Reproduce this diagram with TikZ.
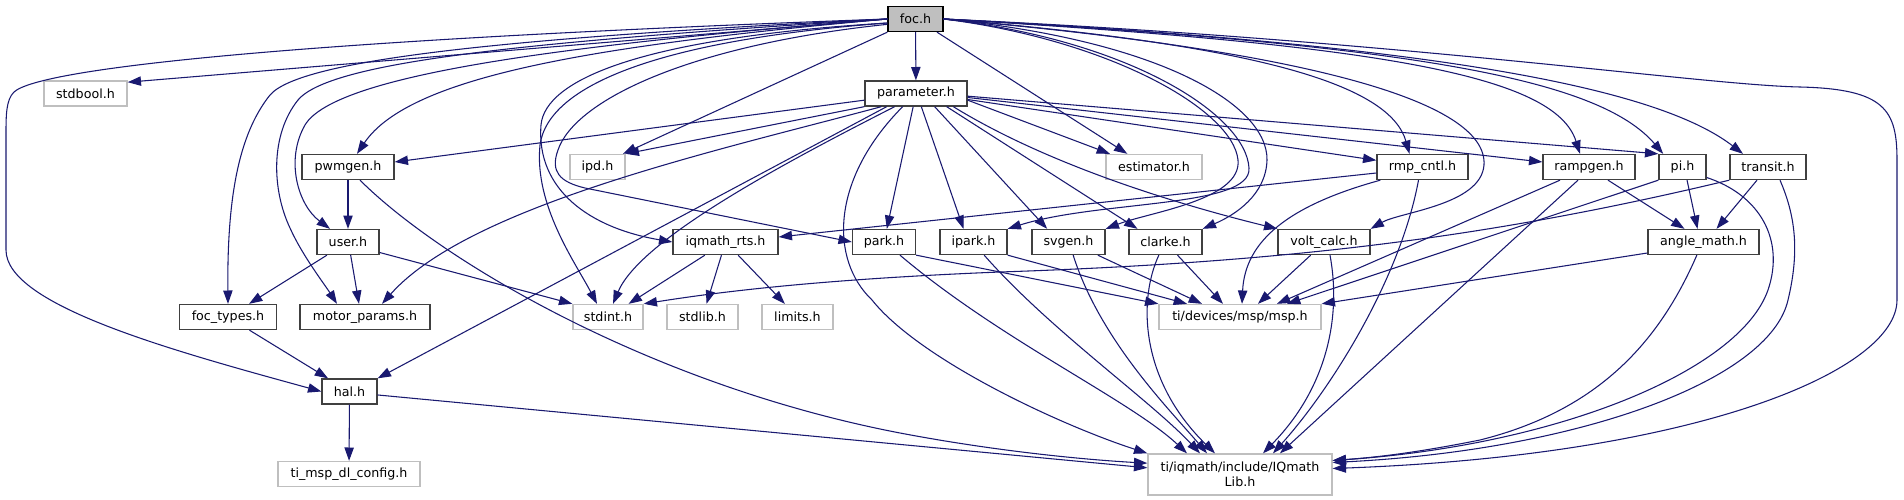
\documentclass[tikz,border=0pt]{standalone}
\usepackage{fontspec}
\setmainfont{DejaVu Sans}
\usepackage{tikz}
\usetikzlibrary{arrows.meta, positioning, calc}
\definecolor{Azulnoche}{RGB}{25,25,112}
\definecolor{Gris75}{RGB}{191,191,191}
\definecolor{Gris25}{RGB}{64,64,64}

\begin{document}
\begin{tikzpicture}[
  x=0.75pt, y=-0.75pt,
  caja/.style={
    rectangle, inner sep=0pt, minimum height=18.75pt,
    align=center, text=black, line width=1pt,
    font=\fontsize{9.5}{11}\selectfont
  },
  ancho/.style={minimum width=#1*0.75pt},
  raiz/.style={caja, draw=black, fill=Gris75},
  interno/.style={caja, draw=Gris25, fill=white},
  externo/.style={caja, draw=Gris75, fill=white},
  flecha/.style={-{Triangle[length=10pt,width=7pt]}, draw=Azulnoche, line width=0.8pt}
]

\fill[white] (0,0) rectangle (1904,500);
\useasboundingbox (0,0) rectangle (1904,500);

%% ─────────────────────────────────────────────────────────
%% Nodos: una fila por nivel (y = 19, 93.5, 167, 242, 317, 391.5, 474)
%% ─────────────────────────────────────────────────────────

%% NIVEL 0-1
\node[raiz, ancho=55]     (FOC)   at (915.5, 19)   {foc.h};
\node[externo, ancho=83]  (SBOOL) at (85.5, 93.5)  {stdbool.h};
\node[interno, ancho=102] (PAR)   at (916, 93.5)   {parameter.h};

%% NIVEL 2
\node[interno, ancho=92]  (PWM)  at (348, 167)    {pwmgen.h};
\node[externo, ancho=55]  (IPD)  at (597.5, 167)  {ipd.h};
\node[externo, ancho=96]  (EST)  at (1154, 167)   {estimator.h};
\node[interno, ancho=91]  (RMP)  at (1422.5, 167) {rmp\_cntl.h};
\node[interno, ancho=92]  (RAMP) at (1589, 167)   {rampgen.h};
\node[interno, ancho=47]  (PIH)  at (1682.5, 167) {pi.h};
\node[interno, ancho=76]  (TRS)  at (1768, 167)   {transit.h};

%% NIVEL 3
\node[interno, ancho=62]  (USR)  at (348, 242)    {user.h};
\node[interno, ancho=105] (RTS)  at (725.5, 242)  {iqmath\_rts.h};
\node[interno, ancho=63]  (PRK)  at (884, 242)    {park.h};
\node[interno, ancho=67]  (IPRK) at (973.5, 242)  {ipark.h};
\node[interno, ancho=73]  (SVG)  at (1068.5, 242) {svgen.h};
\node[interno, ancho=73]  (CLK)  at (1165.5, 242) {clarke.h};
\node[interno, ancho=92]  (VLT)  at (1324, 242)   {volt\_calc.h};
\node[interno, ancho=111] (ANG)  at (1703.5, 242) {angle\_math.h};

%% NIVEL 4
\node[interno, ancho=97]  (FTY)  at (228, 317)    {foc\_types.h};
\node[interno, ancho=130] (MOT)  at (365, 317)    {motor\_params.h};
\node[externo, ancho=70]  (SINT) at (608, 317)    {stdint.h};
\node[externo, ancho=71]  (SLIB) at (702.5, 317)  {stdlib.h};
\node[externo, ancho=71]  (LIM)  at (797.5, 317)  {limits.h};
\node[externo, ancho=162] (MSP)  at (1240, 317)   {ti/devices/msp/msp.h};

%% NIVEL 5-6
\node[interno, ancho=55]  (HAL)  at (349.5, 391.5) {hal.h};
\node[externo, ancho=142] (CFG)  at (349, 474)     {ti\_msp\_dl\_config.h};
\node[externo, ancho=184, minimum height=30.75pt]
                          (IQL)  at (1240, 474.5)  {ti/iqmath/include/IQmath\\Lib.h};

%% ─────────────────────────────────────────────────────────
%% foc.h hacia la izquierda
%% ─────────────────────────────────────────────────────────
\draw[flecha] (FOC.west) .. controls (300,40) and (40,68) .. (14,92)
  .. controls (6,100) and (6,115) .. (6,135) -- (6,250)
  .. controls (6,305) and (170,350) .. (HAL.west);
\draw[flecha] (FOC.west) -- (SBOOL.15);
\draw[flecha] (FOC.west) .. controls (500,38) and (300,60) .. (270,95)
  .. controls (238,135) and (227,200) .. (FTY.north);
\draw[flecha] (FOC.west) .. controls (520,42) and (330,62) .. (298,100)
  .. controls (270,135) and (272,190) .. (290,228)
  .. controls (302,255) and (325,285) .. ([xshift=-21pt]MOT.north);
\draw[flecha] (FOC.west) .. controls (560,45) and (335,75) .. (305,125)
  .. controls (285,160) and (298,205) .. ([xshift=-13.5pt]USR.north);
\draw[flecha] (FOC.west) .. controls (600,45) and (410,75) .. ([xshift=6.75pt]PWM.north);

% curvas que rodean ipd.h
\draw[flecha] ([yshift=-3pt]FOC.west) .. controls (660,40) and (548,85) .. (540,145)
  .. controls (534,205) and (575,262) .. ([xshift=-8.25pt]SINT.north);
\draw[flecha] ([yshift=-3pt]FOC.west) .. controls (640,38) and (545,80) .. (541,125)
  .. controls (536,190) and (590,228) .. (RTS.west);
\draw[flecha] ([yshift=-4pt]FOC.west) .. controls (690,45) and (575,100) .. (558,150)
  .. controls (550,172) and (560,182) .. (585,188) -- (PRK.west);

\draw[flecha] (FOC.south west) -- ([xshift=-2pt]IPD.north east);
\draw[flecha] (FOC) -- (PAR);
\draw[flecha] ([xshift=-5pt]FOC.south east) -- ([xshift=-20pt]EST.north);

%% ─────────────────────────────────────────────────────────
%% foc.h hacia la derecha
%% ─────────────────────────────────────────────────────────
\draw[flecha] (FOC.east) .. controls (1110,40) and (1233,110) .. (1238,160)
  .. controls (1242,200) and (1150,212) .. (SVG.north east);
\draw[flecha] (FOC.east) .. controls (1130,40) and (1246,115) .. (1249,168)
  .. controls (1252,208) and (1100,200) .. (IPRK.north east);
\draw[flecha] (FOC.east) .. controls (1160,40) and (1268,105) .. (1267,160)
  .. controls (1266,195) and (1235,215) .. (CLK.north east);
\draw[flecha] (FOC.east) .. controls (1260,45) and (1390,85) .. ([xshift=-9.75pt]RMP.north);
\draw[flecha] (FOC.east) .. controls (1300,50) and (1488,100) .. (1484,165)
  .. controls (1481,205) and (1400,212) .. (VLT.north east);
\draw[flecha] (FOC.east) .. controls (1380,45) and (1555,75) .. ([xshift=-6.75pt]RAMP.north);
\draw[flecha] (FOC.east) .. controls (1420,45) and (1600,80) .. ([xshift=-14.5pt]PIH.north);
\draw[flecha] (FOC.east) .. controls (1450,45) and (1660,90) .. ([xshift=-18.75pt]TRS.north);
\draw[flecha] (FOC.east) .. controls (1400,40) and (1700,85) .. (1800,87)
  .. controls (1885,89) and (1897,110) .. (1897,160) -- (1897,300)
  .. controls (1897,370) and (1700,455) .. ([yshift=4.5pt]IQL.east);

%% ─────────────────────────────────────────────────────────
%% parameter.h
%% ─────────────────────────────────────────────────────────
\draw[flecha] ([yshift=-5pt]PAR.west) -- ([yshift=3.75pt]PWM.east);
\draw[flecha] (PAR.south west) -- (IPD.north east);
\draw[flecha] ([xshift=-26pt]PAR.south) .. controls (720,150) and (470,205) .. ([xshift=12.75pt]MOT.north);
\draw[flecha] ([xshift=-22pt]PAR.south) -- (HAL.north east);
\draw[flecha] ([xshift=-16pt]PAR.south) .. controls (780,165) and (640,240) .. ([xshift=3.75pt]SINT.north);
\draw[flecha] ([xshift=-10pt]PAR.south) .. controls (830,180) and (830,260) .. (872,300)
  .. controls (920,360) and (1060,425) .. (IQL.north west);
\draw[flecha] (PAR) -- (PRK);
\draw[flecha] ([xshift=4pt]PAR.south) -- ([xshift=-7.5pt]IPRK.north);
\draw[flecha] ([xshift=14pt]PAR.south) -- ([xshift=-16pt]SVG.north);
\draw[flecha] ([xshift=23pt]PAR.south) -- ([xshift=-21pt]CLK.north);
\draw[flecha] ([xshift=28pt]PAR.south) .. controls (1040,160) and (1160,200) .. (VLT.north west);
\draw[flecha] ([yshift=-5pt]PAR.east) -- ([xshift=-33pt]EST.north);
\draw[flecha] ([yshift=-4.5pt]PAR.east) -- ([yshift=5pt]RMP.west);
\draw[flecha] ([yshift=-3pt]PAR.east) -- ([yshift=3.75pt]RAMP.west);
\draw[flecha] ([yshift=-2pt]PAR.east) -- (PIH.north west);

%% ─────────────────────────────────────────────────────────
%% niveles inferiores
%% ─────────────────────────────────────────────────────────
\draw[flecha] (PWM) -- (USR);
\draw[flecha] ([xshift=9pt]PWM.south) .. controls (440,260) and (650,385) .. (900,433)
  .. controls (1000,452) and (1090,460) .. ([yshift=8.5pt]IQL.west);
\draw[flecha] (USR) -- (FTY);
\draw[flecha] ([xshift=2pt]USR.south) -- ([xshift=-4.5pt]MOT.north);
\draw[flecha] ([yshift=2pt]USR.south east) -- (SINT.north west);
\draw[flecha] (FTY) -- (HAL);
\draw[flecha] (HAL) -- (CFG);
\draw[flecha] ([yshift=-2.6pt]HAL.east) -- ([yshift=5pt]IQL.west);

\draw[flecha] (RTS) -- (SINT);
\draw[flecha] (RTS) -- (SLIB);
\draw[flecha] (RTS) -- (LIM);
\draw[flecha] ([yshift=-4.5pt]RMP.west) -- ([yshift=3.75pt]RTS.east);

% transformadas -> msp.h / IQmathLib.h
\draw[flecha] (PRK.south east) -- (MSP.north west);
\draw[flecha] ([xshift=12pt]PRK.south) .. controls (1000,340) and (1130,400) .. ([xshift=-39.75pt]IQL.north);
\draw[flecha] (IPRK.south east) -- ([xshift=-39.75pt]MSP.north);
\draw[flecha] ([xshift=8pt]IPRK.south) .. controls (1050,330) and (1150,400) .. ([xshift=-30pt]IQL.north);
\draw[flecha] ([xshift=22pt]SVG.south) -- ([xshift=-28.5pt]MSP.north);
\draw[flecha] ([xshift=3.5pt]SVG.south) .. controls (1100,340) and (1170,410) .. ([xshift=-24.75pt]IQL.north);
\draw[flecha] ([xshift=9pt]CLK.south) -- ([xshift=-12.75pt]MSP.north);
\draw[flecha] ([xshift=-5pt]CLK.south) .. controls (1138,300) and (1140,380) .. ([xshift=-18.75pt]IQL.north);
\draw[flecha] ([xshift=-10pt]VLT.south) -- ([xshift=13.5pt]MSP.north);
\draw[flecha] ([xshift=4.5pt]VLT.south) .. controls (1342,320) and (1325,390) .. ([xshift=17.25pt]IQL.north);
\draw[flecha] ([xshift=3pt]RMP.south west) .. controls (1290,205) and (1245,240) .. ([xshift=1.5pt]MSP.north);
\draw[flecha] ([xshift=-3pt]RMP.south) .. controls (1400,280) and (1330,390) .. ([xshift=24.75pt]IQL.north);

% rampgen, pi, transit, angle_math
\draw[flecha] ([xshift=-21.75pt]RAMP.south) -- ([xshift=27.75pt]MSP.north);
\draw[flecha] ([xshift=-8.25pt]RAMP.south) -- ([xshift=30pt]IQL.north);
\draw[flecha] ([xshift=14.25pt]RAMP.south) -- ([xshift=-14.25pt]ANG.north);
\draw[flecha] ([xshift=3.4pt]PIH.south) -- ([xshift=-4.5pt]ANG.north);
\draw[flecha] ([xshift=-8.25pt]TRS.south) -- ([xshift=9.75pt]ANG.north);
\draw[flecha] (PIH.south west) -- ([xshift=35.25pt]MSP.north);
\draw[flecha] ([yshift=2pt]PIH.south east) .. controls (1760,195) and (1785,240) .. (1768,290)
  .. controls (1740,370) and (1560,445) .. ([yshift=10.5pt]IQL.east);
\draw[flecha] ([xshift=9pt]TRS.south) .. controls (1795,215) and (1800,250) .. (1788,300)
  .. controls (1770,380) and (1580,450) .. ([yshift=9pt]IQL.east);
\draw[flecha] (TRS.south west) .. controls (1500,235) and (1300,262) .. (1000,272)
  .. controls (800,280) and (700,295) .. (SINT.north east);
\draw[flecha] ([yshift=-8.25pt]ANG.west) -- (MSP.north east);
\draw[flecha] ([xshift=-5pt]ANG.south) .. controls (1660,340) and (1600,410) .. (1480,440)
  .. controls (1420,452) and (1380,457) .. ([yshift=10.5pt]IQL.east);

\end{tikzpicture}
\end{document}
